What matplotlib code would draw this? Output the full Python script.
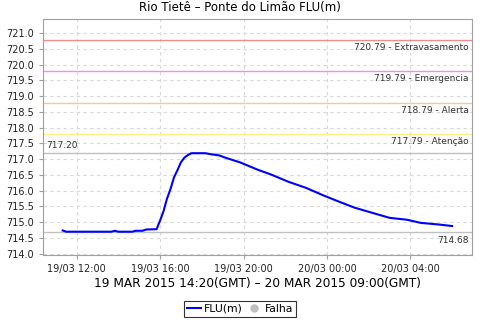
import matplotlib
matplotlib.use("Agg")
import matplotlib.pyplot as plt
import matplotlib.dates as mdates
from matplotlib.lines import Line2D
import pandas as pd

# Leituras FLU(m) - Rio Tietê, Ponte do Limão
times = ["2015-03-19 11:20", "2015-03-19 11:30", "2015-03-19 12:30", "2015-03-19 13:40",
         "2015-03-19 13:50", "2015-03-19 14:00", "2015-03-19 14:40", "2015-03-19 14:50",
         "2015-03-19 15:10", "2015-03-19 15:20", "2015-03-19 15:50", "2015-03-19 16:00",
         "2015-03-19 16:10", "2015-03-19 16:20", "2015-03-19 16:30", "2015-03-19 16:40",
         "2015-03-19 16:50", "2015-03-19 17:00", "2015-03-19 17:10", "2015-03-19 17:20",
         "2015-03-19 17:30", "2015-03-19 18:10", "2015-03-19 18:30", "2015-03-19 18:50",
         "2015-03-19 19:10", "2015-03-19 19:50", "2015-03-19 20:40", "2015-03-19 21:20",
         "2015-03-19 22:10", "2015-03-19 23:00", "2015-03-19 23:50", "2015-03-20 00:40",
         "2015-03-20 01:20", "2015-03-20 02:10", "2015-03-20 03:00", "2015-03-20 03:50",
         "2015-03-20 04:30", "2015-03-20 05:20", "2015-03-20 06:00"]
levels = [714.74, 714.70, 714.70, 714.70,
          714.73, 714.70, 714.70, 714.73,
          714.73, 714.77, 714.78, 715.05,
          715.35, 715.75, 716.05, 716.42,
          716.65, 716.90, 717.05, 717.13,
          717.19, 717.19, 717.15, 717.12,
          717.04, 716.90, 716.67, 716.51,
          716.28, 716.09, 715.85, 715.63,
          715.46, 715.30, 715.14, 715.08,
          714.98, 714.93, 714.88]

# cotas de referência
ref_values = [720.79, 719.79, 718.79, 717.79]
ref_names = ["Extravasamento", "Emergencia", "Alerta", "Atenção"]
ref_colors = ["#F08C8C", "#F08CF0", "#FFC68C", "#FFEE8C"]
max_level = 717.20
min_level = 714.68

x = pd.to_datetime(times)

fig = plt.figure(figsize=(4.8, 3.2), dpi=100)
ax = fig.add_axes([0.090, 0.203, 0.894, 0.737])

for v, c in zip(ref_values, ref_colors):
    ax.axhline(v, color=c, lw=1.0, zorder=2)
ax.axhline(max_level, color="#C0C0C0", lw=1.0, zorder=2)
ax.axhline(min_level, color="#C0C0C0", lw=1.0, zorder=2)

ax.plot(x, levels, color="#0000FF", lw=1.5, zorder=3)

ax.set_xlim(pd.Timestamp("2015-03-19 10:24"), pd.Timestamp("2015-03-20 06:58"))
ax.set_ylim(713.96, 721.44)
ax.set_yticks([714 + 0.5 * i for i in range(15)])
ax.yaxis.set_major_formatter(plt.FormatStrFormatter("%.1f"))
ax.xaxis.set_major_locator(mdates.HourLocator(byhour=[0, 4, 8, 12, 16, 20]))
ax.xaxis.set_major_formatter(mdates.DateFormatter("%d/%m %H:%M"))

ax.grid(True, color="#D8D8D8", ls=(0, (3, 3)), lw=0.8)
ax.set_axisbelow(True)
for s in ax.spines.values():
    s.set_color("#A0A0A0")
ax.tick_params(labelsize=7, colors="#222222", length=3, width=0.8)
ax.tick_params(color="#A0A0A0")

tfont = dict(fontsize=6.5, color="#333333")
ty = ax.get_yaxis_transform()
for v, n in zip(ref_values, ref_names):
    ax.text(0.992, v - 0.09, f"{v:.2f} - {n}", transform=ty, ha="right", va="top", **tfont)
ax.text(0.008, max_level + 0.1, f"{max_level:.2f}", transform=ty,
        ha="left", va="bottom", **tfont)
ax.text(0.992, min_level - 0.12, f"{min_level:.2f}", transform=ty,
        ha="right", va="top", **tfont)

fig.text(0.5, 1 - 11.5 / 320, "Rio Tietê – Ponte do Limão FLU(m)", fontsize=8.5,
         ha="center", va="baseline")
fig.text(0.5375, 1 - 287 / 320, "19 MAR 2015 14:20(GMT) – 20 MAR 2015 09:00(GMT)",
         fontsize=8.7, ha="center", va="baseline")

handles = [Line2D([], [], color="#0000FF", lw=1.5),
           Line2D([], [], ls="", marker="o", color="#C0C0C0", markersize=5)]
leg = fig.legend(handles, ["FLU(m)", "Falha"], loc="center", bbox_to_anchor=(0.5, 0.035),
                 ncol=2, fontsize=7.8, frameon=True, fancybox=False, handlelength=1.3,
                 handletextpad=0.3, columnspacing=0.4, borderpad=0.25, borderaxespad=0)
leg.get_frame().set_edgecolor("black")
leg.get_frame().set_linewidth(0.8)

fig.savefig("out.png", dpi=100)
